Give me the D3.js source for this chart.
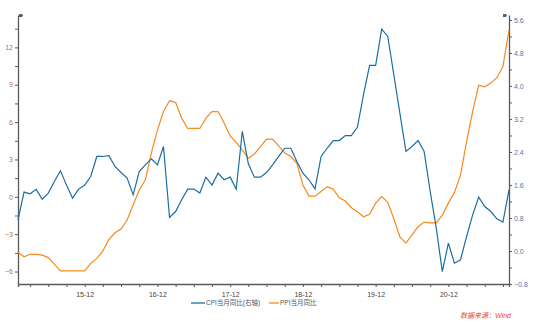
<!DOCTYPE html>
<html>
<head>
<meta charset="utf-8">
<script src="https://cdn.jsdelivr.net/npm/d3@7"></script>
<style>
  html, body { margin: 0; padding: 0; background: #fff; }
  svg { display: block; }
  text { font-family: "Liberation Sans", "Noto Sans CJK SC", sans-serif; }
</style>
</head>
<body>
<svg id="chart" width="543" height="327"></svg>
<script>
// Monthly series, Jan 2015 – Oct 2021
const startYear = 2015;
const monthCount = 82;

// Blue series, plotted on the left axis
const cpiYoY = [
  -1.85, 0.38, 0.24, 0.6, -0.19, 0.3, 1.23, 2.09, 0.94, -0.11, 0.62, 0.94,
  1.63, 3.24, 3.24, 3.3, 2.44, 1.95, 1.5, 0.16, 2.03, 2.57, 3.05, 2.57,
  4.04, -1.66, -1.18, -0.24, 0.62, 0.62, 0.3, 1.58, 0.94, 1.9, 1.37, 1.58,
  0.62, 5.25, 2.65, 1.58, 1.58, 1.95, 2.57, 3.24, 3.9, 3.9, 2.84, 1.9,
  1.37, 0.64, 3.24, 3.9, 4.52, 4.52, 4.92, 4.92, 5.6, 8.2, 10.55, 10.55,
  13.47, 12.88, 9.8, 6.7, 3.64, 4.04, 4.52, 3.64, 0.43, -2.52, -6.0, -3.72,
  -5.33, -5.06, -3.19, -1.45, -0.03, -0.78, -1.18, -1.77, -2.03, 0.56
];

// Orange series, plotted on the right axis
const ppiYoY = [
  -0.03, -0.14, -0.08, -0.08, -0.1, -0.16, -0.32, -0.48, -0.48, -0.48, -0.48, -0.48,
  -0.3, -0.18, 0.0, 0.28, 0.44, 0.53, 0.75, 1.12, 1.48, 1.72, 2.37, 2.93,
  3.38, 3.64, 3.6, 3.22, 2.97, 2.97, 2.97, 3.22, 3.38, 3.38, 3.1, 2.79,
  2.63, 2.45, 2.25, 2.35, 2.53, 2.71, 2.71, 2.55, 2.38, 2.29, 2.13, 1.6,
  1.33, 1.33, 1.44, 1.56, 1.5, 1.29, 1.21, 1.05, 0.95, 0.83, 0.89, 1.16,
  1.32, 1.18, 0.78, 0.34, 0.19, 0.39, 0.59, 0.7, 0.68, 0.68, 0.87, 1.16,
  1.42, 1.84, 2.65, 3.38, 4.02, 3.98, 4.07, 4.2, 4.47, 5.36
];

const seriesNames = ["CPI当月同比(右轴)", "PPI当月同比"];
const xTickLabels = ["15-12", "16-12", "17-12", "18-12", "19-12", "20-12"];
const leftTicks = [-6, -3, 0, 3, 6, 9, 12];
const rightTicks = [-0.8, 0.0, 0.8, 1.6, 2.4, 3.2, 4.0, 4.8, 5.6];
const sourceText = "数据来源：Wind";

const blue = "#1a6ea3";
const orange = "#f58a1f";
const axisColor = "#5a5a5a";

const svg = d3.select("#chart");

const plot = { left: 18, right: 509, top: 15, bottom: 284 };

const x = d3.scaleLinear().domain([0, monthCount - 1]).range([plot.left, plot.right]);
const yL = d3.scaleLinear().domain([-7, 14.6]).range([plot.bottom, plot.top]);
const yR = d3.scaleLinear().domain([-0.8, 5.72]).range([plot.bottom, plot.top]);

// ---- x axis: minor ticks every quarter, labels at each December ----
const quarterIdx = d3.range(2, monthCount, 3);
const decIdx = d3.range(11, monthCount, 12);

const xAxis = d3.axisBottom(x)
  .tickValues(quarterIdx)
  .tickSize(3)
  .tickFormat(d => {
    const k = decIdx.indexOf(d);
    return k >= 0 ? xTickLabels[k] : "";
  });

const gx = svg.append("g")
  .attr("transform", `translate(0,${plot.bottom})`)
  .call(xAxis);
gx.select(".domain").attr("stroke", axisColor).attr("stroke-width", 1.3);
gx.selectAll(".tick line").attr("stroke", axisColor);
gx.selectAll(".tick text")
  .attr("font-size", 7)
  .attr("fill", "#444")
  .attr("dy", "0.95em");

// ---- left axis ----
const leftAll = d3.range(-6, 14, 1.5);
const gl = svg.append("g")
  .attr("transform", `translate(${plot.left},0)`)
  .call(d3.axisLeft(yL)
    .tickValues(leftAll)
    .tickSize(3)
    .tickSizeOuter(0)
    .tickFormat(d => leftTicks.includes(d) ? d3.format("d")(d) : ""));
gl.select(".domain").attr("stroke", axisColor).attr("stroke-width", 1.3);
gl.selectAll(".tick line").attr("stroke", axisColor);
gl.selectAll(".tick text").attr("font-size", 7).attr("fill", "#b8703c").attr("x", -5);

// ---- right axis ----
const rightAll = d3.range(-0.8, 5.65, 0.4).map(v => Math.round(v * 10) / 10);
const gr = svg.append("g")
  .attr("transform", `translate(${plot.right},0)`)
  .call(d3.axisRight(yR)
    .tickValues(rightAll)
    .tickSize(3)
    .tickSizeOuter(0)
    .tickFormat(d => rightTicks.some(t => Math.abs(t - d) < 1e-6) ? d3.format(".1f")(d) : ""));
gr.select(".domain").attr("stroke", axisColor).attr("stroke-width", 1.3);
gr.selectAll(".tick line").attr("stroke", axisColor);
gr.selectAll(".tick text").attr("font-size", 7).attr("fill", "#4d78a8").attr("x", 5);

// small end markers at the top of each vertical axis
[plot.left + 1, plot.right - 6].forEach(px => {
  svg.append("path")
    .attr("d", `M${px},${plot.top - 1} l3,0 l1,1.5 l-1,1.5 l-3,0 z`)
    .attr("fill", "#55607a");
});

// ---- lines ----
const lineL = d3.line().x((d, i) => x(i)).y(d => yL(d));
const lineR = d3.line().x((d, i) => x(i)).y(d => yR(d));

svg.append("path")
  .datum(ppiYoY)
  .attr("d", lineR)
  .attr("fill", "none")
  .attr("stroke", orange)
  .attr("stroke-width", 1.2);

svg.append("path")
  .datum(cpiYoY)
  .attr("d", lineL)
  .attr("fill", "none")
  .attr("stroke", blue)
  .attr("stroke-width", 1.2);

// ---- legend ----
const legend = svg.append("g").attr("transform", "translate(0,303)");
const items = [
  { name: seriesNames[0], color: blue, x0: 191, len: 14 },
  { name: seriesNames[1], color: orange, x0: 269, len: 10 }
];
items.forEach(it => {
  legend.append("line")
    .attr("x1", it.x0).attr("x2", it.x0 + it.len)
    .attr("y1", 0).attr("y2", 0)
    .attr("stroke", it.color).attr("stroke-width", 1.3);
  legend.append("text")
    .attr("x", it.x0 + it.len + 1).attr("y", 0)
    .attr("dy", "0.35em")
    .attr("font-size", 6.5)
    .attr("fill", "#555")
    .attr("font-family", "'Noto Sans CJK SC', sans-serif")
    .text(it.name);
});

// ---- source note ----
svg.append("text")
  .attr("x", 511).attr("y", 316)
  .attr("text-anchor", "end")
  .attr("dy", "0.35em")
  .attr("font-size", 7)
  .attr("font-style", "italic")
  .attr("fill", "#e8433a")
  .attr("font-family", "'Noto Sans CJK SC', sans-serif")
  .text(sourceText);
</script>
</body>
</html>
